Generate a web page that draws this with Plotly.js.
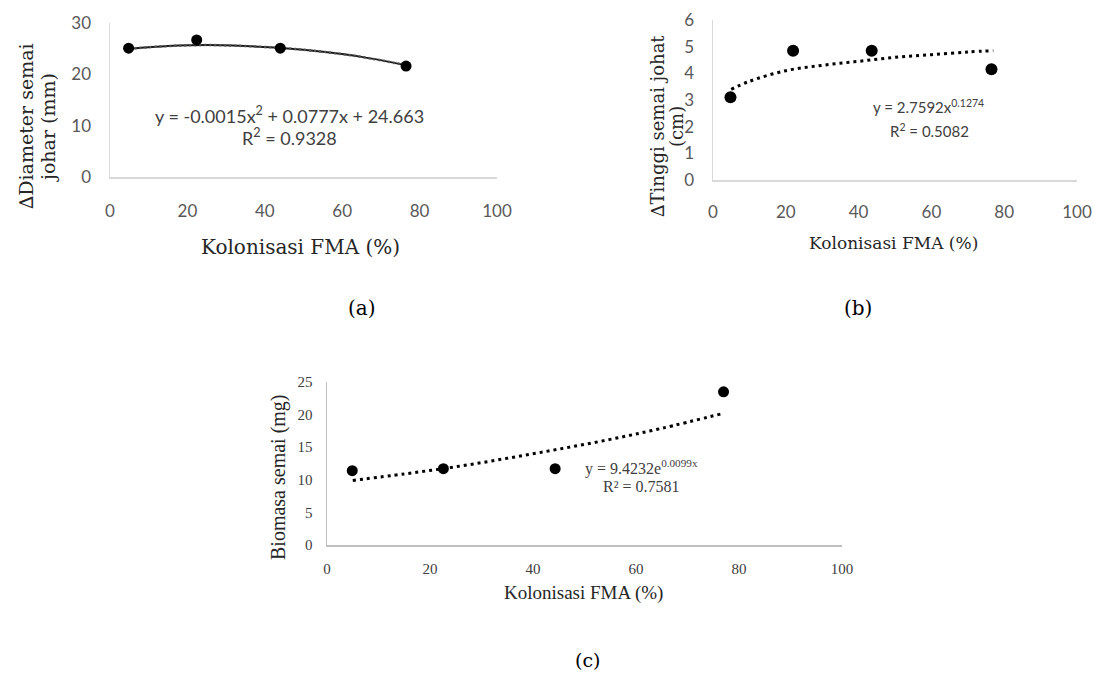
<!DOCTYPE html>
<html>
<head>
<meta charset="utf-8">
<script src="https://cdn.plot.ly/plotly-3.0.1.min.js"></script>
<style>html,body{margin:0;padding:0;background:#fff;}#chart{width:1093px;height:675px;}</style>
</head>
<body>
<div id="chart"></div>
<script>
// ---- data ----
const colonA = [4.8, 22.4, 44.0, 76.5];
const diameter = [25.1, 26.7, 25.1, 21.6];
const trendXA = [5, 15, 25, 35, 45, 55, 65, 77];
const trendYA = [25.0, 25.5, 25.7, 25.5, 25.1, 24.4, 23.4, 21.7];

const colonB = [4.8, 22.0, 43.6, 76.5];
const tinggi = [3.1, 4.85, 4.85, 4.15];
const trendXB = [5, 10, 20, 30, 40, 50, 60, 70, 77];
const trendYB = [3.4, 3.7, 4.1, 4.3, 4.45, 4.6, 4.7, 4.8, 4.85];

const colonC = [4.9, 22.6, 44.3, 77.0];
const biomasa = [11.4, 11.7, 11.7, 23.5];
const trendXC = [5, 15, 25, 35, 45, 55, 65, 77];
const trendYC = [9.9, 10.9, 12.0, 13.3, 14.7, 16.2, 17.9, 20.2];

const xTicks = [0, 20, 40, 60, 80, 100];
const yTicksA = [0, 10, 20, 30];
const yTicksB = [0, 1, 2, 3, 4, 5, 6];
const yTicksC = [0, 5, 10, 15, 20, 25];

const xTitle = 'Kolonisasi FMA (%)';

// ---- styles ----
const W = 1093, H = 675;
const px = v => v / W;
const py = v => 1 - v / H;
const sansTick = {family: 'Lato, "Open Sans", sans-serif', size: 17, color: '#595959'};
const serifTick = {family: '"Liberation Serif", serif', size: 15, color: '#404040'};
const pal = (size, color) => ({family: '"DejaVu Serif", serif', size: size, color: color || '#262626'});
const times = (size, color) => ({family: '"Liberation Serif", serif', size: size, color: color || '#262626'});
const sans = (size) => ({family: 'Lato, sans-serif', size: size, color: '#404040'});

const traces = [
  {x: trendXA, y: trendYA, xaxis: 'x', yaxis: 'y', mode: 'lines', line: {color: '#1a1a1a', width: 2, shape: 'spline'}, hoverinfo: 'skip'},
  {x: trendXA, y: trendYA, xaxis: 'x', yaxis: 'y', mode: 'lines', line: {color: '#555', width: 2.5, dash: '2px,3px', shape: 'spline'}, hoverinfo: 'skip'},
  {x: colonA, y: diameter, xaxis: 'x', yaxis: 'y', mode: 'markers', marker: {color: '#000', size: 11}},
  {x: trendXB, y: trendYB, xaxis: 'x2', yaxis: 'y2', mode: 'lines', line: {color: '#000', width: 3, dash: '3px,4px', shape: 'spline'}, hoverinfo: 'skip'},
  {x: colonB, y: tinggi, xaxis: 'x2', yaxis: 'y2', mode: 'markers', marker: {color: '#000', size: 12}},
  {x: trendXC, y: trendYC, xaxis: 'x3', yaxis: 'y3', mode: 'lines', line: {color: '#000', width: 3, dash: '3px,4px', shape: 'spline'}, hoverinfo: 'skip'},
  {x: colonC, y: biomasa, xaxis: 'x3', yaxis: 'y3', mode: 'markers', marker: {color: '#000', size: 11}}
];

function xax(dom, anchor, font, standoff, lc) {
  return {domain: dom, anchor: anchor, range: [0, 100], tickvals: xTicks, showgrid: false, zeroline: false,
    showline: true, linecolor: lc, linewidth: 1.5, ticks: 'outside', ticklen: standoff, tickcolor: 'rgba(0,0,0,0)',
    tickfont: font, fixedrange: true};
}
function yax(dom, anchor, range, vals, font, standoff, lc) {
  return {domain: dom, anchor: anchor, range: range, tickvals: vals, showgrid: false, zeroline: false,
    showline: true, linecolor: lc, linewidth: 1.5, ticks: 'outside', ticklen: standoff, tickcolor: 'rgba(0,0,0,0)',
    tickfont: font, fixedrange: true};
}

function note(text, x, y, font, angle) {
  const a = {text: text, x: px(x), y: py(y), xref: 'paper', yref: 'paper', xanchor: 'center', yanchor: 'middle',
    showarrow: false, font: font};
  if (angle) a.textangle = angle;
  return a;
}

const layout = {
  width: W, height: H, margin: {l: 0, r: 0, t: 0, b: 0},
  paper_bgcolor: '#fff', plot_bgcolor: '#fff', showlegend: false,
  xaxis: xax([px(110), px(497)], 'y', sansTick, 18, '#d9d9d9'),
  yaxis: yax([py(177), py(23)], 'x', [0, 30], yTicksA, sansTick, 14, '#d9d9d9'),
  xaxis2: xax([px(713), px(1077)], 'y2', sansTick, 16, '#d9d9d9'),
  yaxis2: yax([py(180), py(20)], 'x2', [0, 6], yTicksB, sansTick, 14, '#d9d9d9'),
  xaxis3: xax([px(327), px(842)], 'y3', serifTick, 9, '#bfbfbf'),
  yaxis3: yax([py(545), py(382)], 'x3', [0, 25], yTicksC, serifTick, 10, '#bfbfbf'),
  annotations: [
    note(xTitle, 300, 247, pal(20)),
    note(xTitle, 893, 243, pal(17)),
    note(xTitle, 583, 593, times(19)),
    note('∆Diameter semai', 26, 126, pal(19), -90),
    note('johar (mm)', 48, 128, pal(19), -90),
    note('∆Tinggi semai johat', 658, 126, pal(18), -90),
    note('(cm)', 676, 127, pal(18), -90),
    note('Biomasa semai (mg)', 278, 477, times(20), -90),
    note('y = -0.0015x<sup>2</sup> + 0.0777x + 24.663', 289, 115, sans(18)),
    note('R<sup>2</sup> = 0.9328', 289, 137, sans(18)),
    note('y = 2.7592x<sup>0.1274</sup>', 928, 107, sans(15)),
    note('R<sup>2</sup> = 0.5082', 929, 130, sans(15)),
    note('y = 9.4232e<sup>0.0099x</sup>', 641, 467, times(16, '#404040')),
    note('R² = 0.7581', 641, 486, times(16, '#404040')),
    note('(a)', 362, 308, pal(20, '#000')),
    note('(b)', 858, 308, pal(20, '#000')),
    note('(c)', 587, 660, pal(19, '#000'))
  ]
};

Plotly.newPlot('chart', traces, layout, {displayModeBar: false, staticPlot: true});
</script>
</body>
</html>
